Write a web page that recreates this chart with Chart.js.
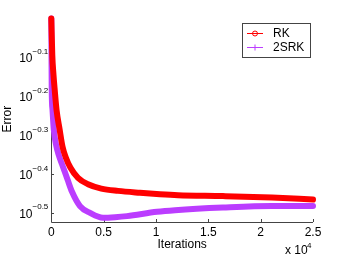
<!DOCTYPE html>
<html>
<head>
<meta charset="utf-8">
<script src="https://cdn.jsdelivr.net/npm/chart.js@4"></script>
<style>
  html, body { margin: 0; padding: 0; background: #fff; }
  #wrap { width: 346px; height: 256px; }
</style>
</head>
<body>
<div id="wrap"><canvas id="chart1"></canvas></div>
<script>
// iterations and error values
const rkIters = [0, 95, 210, 325, 500, 800, 1070, 1385, 1834, 2550, 3505, 4776, 6372, 8470, 10380, 12100, 16400, 21080, 25000];
const rkError = [1.000, 0.805, 0.716, 0.656, 0.583, 0.518, 0.469, 0.440, 0.414, 0.390, 0.3755, 0.366, 0.361, 0.357, 0.354, 0.352, 0.350, 0.347, 0.343];

const srkIters = [0, 20, 40, 115, 240, 450, 700, 1118, 1550, 1980, 2740, 3700, 4940, 6090, 7230, 10100, 11820, 16400, 21080, 25000];
const srkError = [1.000, 0.805, 0.656, 0.583, 0.518, 0.475, 0.447, 0.416, 0.386, 0.359, 0.330, 0.317, 0.308, 0.309, 0.311, 0.319, 0.322, 0.327, 0.330, 0.330];

const xTicks = [0, 5000, 10000, 15000, 20000, 25000];
const xTickLabels = ['0', '0.5', '1', '1.5', '2', '2.5'];
const yTickExps = [-0.5, -0.4, -0.3, -0.2, -0.1];
const yTickLabels = ['−0.5', '−0.4', '−0.3', '−0.2', '−0.1'];

const seriesNames = ['RK', '2SRK'];
const seriesColors = ['#ff0000', '#bb3dff'];

const axisColor = '#444';
const font = '"Liberation Sans", Arial, Helvetica, sans-serif';

const toPoints = (xs, ys) => xs.map((x, i) => ({ x: x, y: ys[i] }));

// axes, inward ticks, labels and legend (matlab style)
const matlabAxes = {
    id: 'matlabAxes',
    beforeDatasetsDraw(chart) {
        const ctx = chart.ctx;
        const a = chart.chartArea;
        const xs = chart.scales.x, ys = chart.scales.y;
        ctx.save();
        ctx.strokeStyle = axisColor;
        ctx.lineWidth = 1;
        ctx.beginPath();
        ctx.moveTo(Math.round(a.left) + 0.5, a.top);
        ctx.lineTo(Math.round(a.left) + 0.5, Math.round(a.bottom) + 0.5);
        ctx.lineTo(a.right, Math.round(a.bottom) + 0.5);
        xTicks.forEach(v => {
            const px = Math.round(xs.getPixelForValue(v)) + 0.5;
            ctx.moveTo(px, Math.round(a.bottom));
            ctx.lineTo(px, Math.round(a.bottom) - 3);
        });
        yTickExps.forEach(e => {
            const py = Math.round(ys.getPixelForValue(Math.pow(10, e))) + 0.5;
            ctx.moveTo(Math.round(a.left), py);
            ctx.lineTo(Math.round(a.left) + 3, py);
        });
        ctx.stroke();
        ctx.restore();
    },
    afterDraw(chart) {
        const ctx = chart.ctx;
        const a = chart.chartArea;
        const xs = chart.scales.x, ys = chart.scales.y;
        ctx.save();
        ctx.fillStyle = '#000';

        // x tick labels
        ctx.font = '12px ' + font;
        ctx.textAlign = 'center';
        ctx.textBaseline = 'middle';
        xTicks.forEach((v, i) => {
            ctx.fillText(xTickLabels[i], xs.getPixelForValue(v), a.bottom + 11);
        });
        ctx.fillText('Iterations', (a.left + a.right) / 2, a.bottom + 23);

        // x 10^4
        ctx.textAlign = 'left';
        ctx.fillText('x 10', 285, 251);
        ctx.font = '8px ' + font;
        ctx.fillText('4', 307, 246);

        // y tick labels 10^e
        yTickExps.forEach((e, i) => {
            const py = ys.getPixelForValue(Math.pow(10, e));
            ctx.font = '8px ' + font;
            const ew = ctx.measureText(yTickLabels[i]).width;
            const ex = a.left - 3 - ew;
            ctx.textAlign = 'left';
            ctx.fillText(yTickLabels[i], ex, py - 6);
            ctx.font = '12px ' + font;
            ctx.textAlign = 'right';
            ctx.fillText('10', ex, py + 1);
        });

        // y title
        ctx.font = '12px ' + font;
        ctx.translate(8, (a.top + a.bottom) / 2);
        ctx.rotate(-Math.PI / 2);
        ctx.textAlign = 'center';
        ctx.fillText('Error', 0, 0);
        ctx.setTransform(1, 0, 0, 1, 0, 0);

        // legend
        ctx.fillStyle = '#fff';
        ctx.fillRect(242.5, 23.5, 68, 34);
        ctx.strokeStyle = axisColor;
        ctx.lineWidth = 1;
        ctx.strokeRect(242.5, 23.5, 68, 34);
        seriesNames.forEach((name, i) => {
            const ly = 33.5 + i * 14;
            ctx.strokeStyle = seriesColors[i];
            ctx.lineWidth = 1;
            ctx.beginPath();
            ctx.moveTo(247, ly);
            ctx.lineTo(263, ly);
            ctx.stroke();
            ctx.beginPath();
            if (i === 0) {
                ctx.arc(255, ly, 2.5, 0, Math.PI * 2);
            } else {
                ctx.moveTo(255, ly - 3);
                ctx.lineTo(255, ly + 3);
            }
            ctx.stroke();
            ctx.fillStyle = '#000';
            ctx.font = '12px ' + font;
            ctx.textAlign = 'left';
            ctx.textBaseline = 'middle';
            ctx.fillText(name, 273, ly);
        });
        ctx.restore();
    }
};

const ctx = document.getElementById('chart1').getContext('2d');
new Chart(ctx, {
    type: 'line',
    data: {
        datasets: [
            {
                label: seriesNames[0],
                data: toPoints(rkIters, rkError),
                borderColor: seriesColors[0],
                borderWidth: 6,
                borderCapStyle: 'round',
                borderJoinStyle: 'round',
                pointRadius: 0,
                cubicInterpolationMode: 'monotone',
                clip: false,
                order: 0
            },
            {
                label: seriesNames[1],
                data: toPoints(srkIters, srkError),
                borderColor: seriesColors[1],
                borderWidth: 6,
                borderCapStyle: 'round',
                borderJoinStyle: 'round',
                pointRadius: 0,
                cubicInterpolationMode: 'monotone',
                clip: false,
                order: 1
            }
        ]
    },
    options: {
        responsive: true,
        maintainAspectRatio: false,
        animation: false,
        layout: {
            padding: { left: 51.3, right: 33, top: 16.6, bottom: 34.3 }
        },
        plugins: {
            legend: { display: false },
            tooltip: { enabled: false }
        },
        scales: {
            x: {
                type: 'linear',
                min: 0,
                max: 25000,
                display: false
            },
            y: {
                type: 'logarithmic',
                min: Math.pow(10, -0.5216),
                max: Math.pow(10, 0.005),
                display: false
            }
        }
    },
    plugins: [matlabAxes]
});
</script>
</body>
</html>
